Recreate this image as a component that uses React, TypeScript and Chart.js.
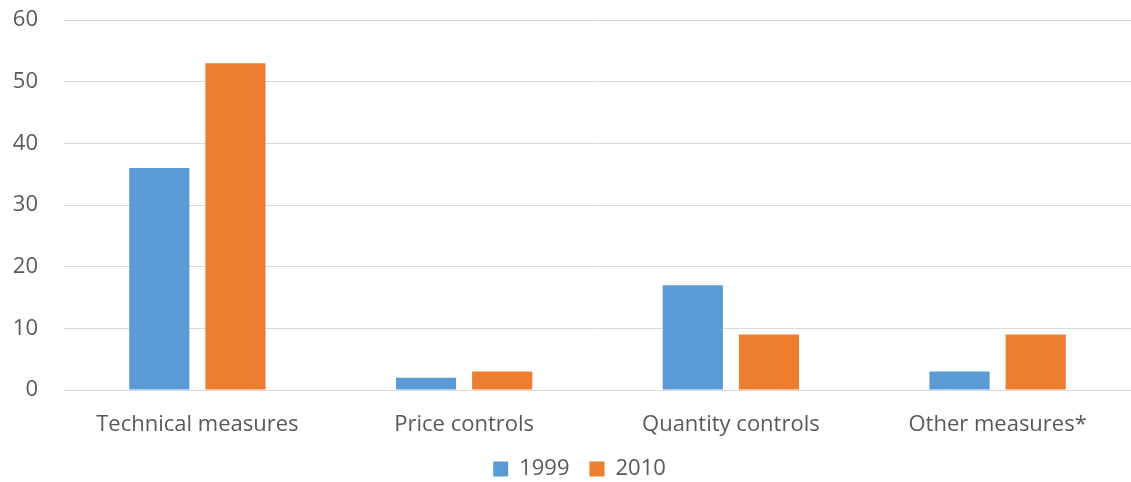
import React, { useEffect, useRef } from "react";
import { Chart, registerables } from "chart.js";

Chart.register(...registerables);

const categories = ["Technical measures", "Price controls", "Quantity controls", "Other measures*"];
const series1999 = [36, 2, 17, 3];
const series2010 = [53, 3, 9, 9];
const seriesLabels = ["1999", "2010"];
const yTicks = [0, 10, 20, 30, 40, 50, 60];

const FONT = "'Open Sans', 'Liberation Sans', sans-serif";
const FS = 22;
const SHIFT = 19;
const CANVAS_H = 509;
const LEGEND_DX = 14;

const legendShift = {
  id: "legendShift",
  afterLayout(c: any) {
    const l = c.legend;
    if (l) {
      l.left += LEGEND_DX;
      l.right += LEGEND_DX;
    }
  },
};

export default function App() {
  const ref = useRef<HTMLCanvasElement | null>(null);
  useEffect(() => {
    if (!ref.current) return;
    const chart = new Chart(ref.current, {
      type: "bar",
      data: {
        labels: categories,
        datasets: [
          {
            label: seriesLabels[0],
            data: series1999,
            backgroundColor: "#5B9BD5",
            categoryPercentage: 0.571,
            barPercentage: 0.79,
          },
          {
            label: seriesLabels[1],
            data: series2010,
            backgroundColor: "#ED7D31",
            categoryPercentage: 0.571,
            barPercentage: 0.79,
          },
        ],
      },
      plugins: [legendShift],
      options: {
        animation: false,
        responsive: false,
        maintainAspectRatio: false,
        layout: { padding: { top: 4, right: 0, left: 0, bottom: 0 } },
        plugins: {
          tooltip: { enabled: false },
          legend: {
            position: "bottom",
            labels: {
              boxWidth: 15,
              boxHeight: 15,
              padding: 20,
              color: "#595959",
              font: { family: FONT, size: FS },
            },
          },
        },
        scales: {
          x: {
            grid: { display: false, drawTicks: false },
            border: { display: true, color: "#D9D9D9", width: 1 },
            ticks: { color: "#595959", font: { family: FONT, size: FS }, padding: 22 },
            afterFit: (s: any) => {
              s.height = 48;
            },
          },
          y: {
            min: 0,
            max: 60,
            afterBuildTicks: (s: any) => {
              s.ticks = yTicks.map((v) => ({ value: v }));
            },
            grid: { color: "#D9D9D9", drawTicks: false },
            border: { display: false },
            ticks: { color: "#595959", font: { family: FONT, size: FS }, padding: 26 },
            afterFit: (s: any) => {
              s.width = 64;
            },
          },
        },
      },
    });
    return () => chart.destroy();
  }, []);
  return (
    <div
      style={{
        position: "fixed",
        left: 0,
        top: 0,
        width: 1131,
        height: 482,
        overflow: "hidden",
        background: "#fff",
      }}
    >
      <canvas
        ref={ref}
        width={1131}
        height={CANVAS_H}
        style={{ display: "block", position: "absolute", left: 0, top: -SHIFT }}
      />
    </div>
  );
}
